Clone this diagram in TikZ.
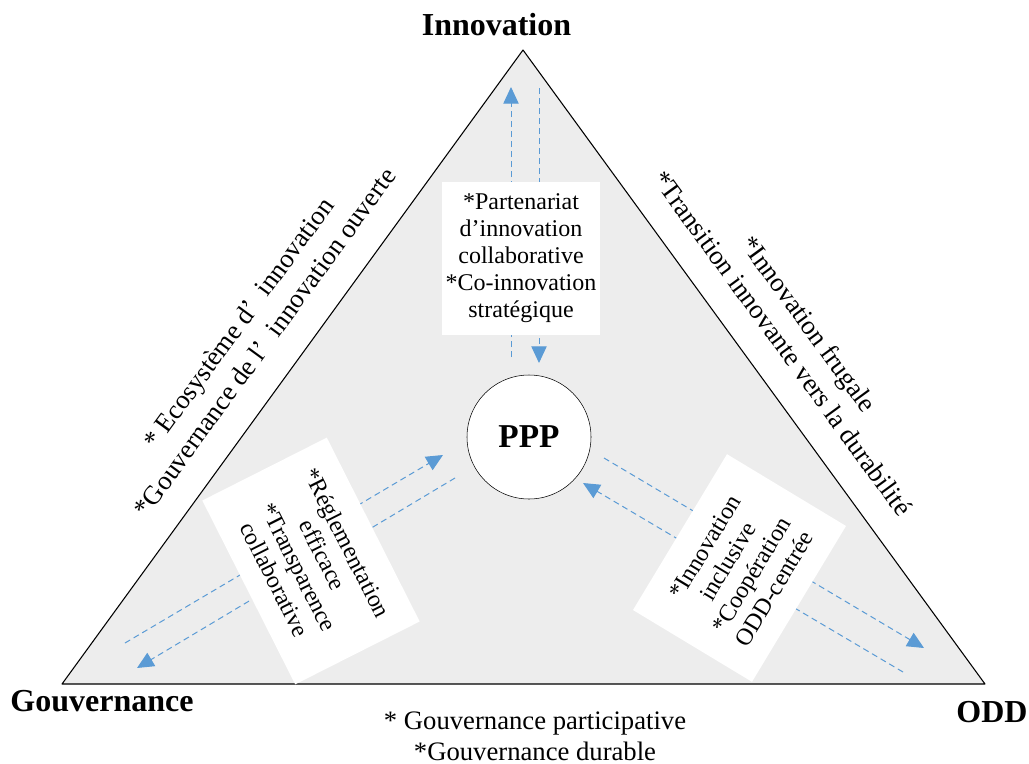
\documentclass[tikz,border=0pt]{standalone}
\usepackage{fontspec}
\setmainfont{Liberation Serif}
\usetikzlibrary{arrows.meta}
\definecolor{flowblue}{HTML}{5B9BD5}
\definecolor{trigray}{HTML}{EDEDED}

\begin{document}
\begin{tikzpicture}[x=0.75pt, y=-0.75pt, line join=round,
    flow/.style={flowblue, line width=0.75pt, dash pattern=on 4.5pt off 3pt,
      -{Triangle[length=12.5pt,width=11.5pt]}},
    card/.style={fill=white, inner sep=0pt, align=center,
      font=\fontsize{18}{20.3}\selectfont},
    corner/.style={inner sep=0pt, font=\fontsize{24}{28}\selectfont\bfseries},
    sidetxt/.style={inner sep=0pt, align=center,
      font=\fontsize{20}{24.5}\selectfont}]
    \useasboundingbox (0,0) rectangle (1029,764);

    % triangle
    \coordinate (apex) at (523,50);
    \coordinate (gov) at (62,684);
    \coordinate (odd) at (985,684);
    \draw[fill=trigray, line width=0.8pt] (apex) -- (odd) -- (gov) -- cycle;

    % flows between the corners and PPP
    \coordinate (up0) at (511,357);   \coordinate (up1) at (511,87);
    \coordinate (dn0) at (539,88);    \coordinate (dn1) at (539,363);
    \coordinate (gl0) at (125,643);   \coordinate (gl1) at (443,455);
    \coordinate (gr0) at (455,478);   \coordinate (gr1) at (137,668);
    \coordinate (ol0) at (604,458);   \coordinate (ol1) at (924,648);
    \coordinate (or0) at (903,672);   \coordinate (or1) at (583,483);
    \draw[flow] (up0) -- (up1);
    \draw[flow] (dn0) -- (dn1);
    \draw[flow] (gl0) -- (gl1);
    \draw[flow] (gr0) -- (gr1);
    \draw[flow] (ol0) -- (ol1);
    \draw[flow] (or0) -- (or1);

    % white cards
    \node[card, minimum width=118.5pt, minimum height=114.75pt] (topcard) at (521,258.5)
      {*Partenariat\\d’innovation\\collaborative\\*Co-innovation\\stratégique};
    \node[card, rotate=-63.2, minimum width=154.5pt, minimum height=104.6pt] (govcard) at (311,561)
      {*Réglementation\\efficace\\*Transparence\\collaborative};
    \node[card, rotate=58.9, minimum width=136.5pt, minimum height=104.25pt] (oddcard) at (739.5,568)
      {*Innovation\\inclusive\\*Coopération\\ODD-centrée};

    \node[circle, draw, fill=white, minimum size=93pt, inner sep=0pt,
      font=\fontsize{25}{28}\selectfont\bfseries] (ppp) at (529,437) {PPP};

    % corner labels
    \node[corner] (innov) at (496.5,25) {Innovation};
    \node[corner] (govlbl) at (102,701) {Gouvernance};
    \node[corner] (oddlbl) at (992,712) {ODD};

    % side texts
    \node[sidetxt, rotate=53.86] (govinn) at (251.5,332.5)
      {* Ecosystème d’\hspace{0.5em}innovation\\*Gouvernance de l’\hspace{0.5em}innovation ouverte};
    \node[sidetxt, rotate=-53.86] (innodd) at (796,333.5)
      {*Innovation frugale\\*Transition innovante vers la durabilité};
    \node[sidetxt, font=\fontsize{20}{23}\selectfont] (govodd) at (535,736)
      {* Gouvernance participative\\*Gouvernance durable};
\end{tikzpicture}
\end{document}
